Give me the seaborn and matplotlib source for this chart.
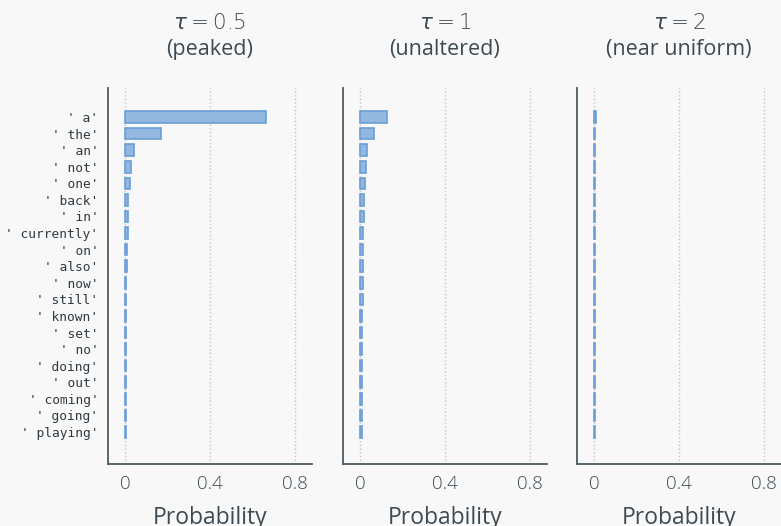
import matplotlib
matplotlib.use("Agg")
import matplotlib.pyplot as plt
import seaborn as sns
import pandas as pd

tokens = ["' a'", "' the'", "' an'", "' not'", "' one'", "' back'", "' in'",
          "' currently'", "' on'", "' also'", "' now'", "' still'", "' known'",
          "' set'", "' no'", "' doing'", "' out'", "' coming'", "' going'", "' playing'"]

p_peaked = [0.662, 0.169, 0.040, 0.029, 0.025, 0.016, 0.013, 0.012, 0.011, 0.009,
            0.007, 0.006, 0.005, 0.005, 0.004, 0.004, 0.003, 0.003, 0.003, 0.003]
p_unaltered = [0.128, 0.064, 0.031, 0.027, 0.025, 0.019, 0.017, 0.016, 0.016, 0.014,
               0.013, 0.012, 0.011, 0.011, 0.010, 0.010, 0.009, 0.009, 0.009, 0.008]
p_uniform = [0.008, 0.006, 0.0045, 0.004, 0.004, 0.0035, 0.0033, 0.0032, 0.0032, 0.003,
             0.003, 0.0028, 0.0027, 0.0027, 0.0026, 0.0026, 0.0025, 0.0025, 0.0025, 0.0024]

titles = ["$\\tau = 0.5$\n(peaked)", "$\\tau = 1$\n(unaltered)", "$\\tau = 2$\n(near uniform)"]
xticks = [0, 0.4, 0.8]
xticklabels = ["0", "0.4", "0.8"]

bg = "#f8f8f8"
txt = "#3d4a52"
spine = "#4e5b63"
fill = "#93b8df"
edge = "#6a9ed6"

sns.set_theme(style="white")
plt.rcParams["font.family"] = ["Open Sans", "DejaVu Sans"]
plt.rcParams["font.weight"] = "light"
plt.rcParams["mathtext.fontset"] = "dejavusans"

fig = plt.figure(figsize=(7.81, 5.26), dpi=100, facecolor=bg)
lefts = [108, 343, 577]
W, H = 781, 526
series = [p_peaked, p_unaltered, p_uniform]

for i, (left, vals, title) in enumerate(zip(lefts, series, titles)):
    ax = fig.add_axes([left / W, 1 - 464 / H, 204 / W, (464 - 88) / H])
    ax.set_facecolor(bg)
    df = pd.DataFrame({"token": tokens, "p": vals})
    sns.barplot(data=df, y="token", x="p", orient="h", ax=ax,
                color=fill, edgecolor=edge, linewidth=1.2, width=0.7, saturation=1)
    ax.set_xlim(-0.08, 0.88)
    ax.set_ylim(20.93, -1.75)
    ax.set_xticks(xticks)
    ax.set_xticklabels(xticklabels, fontsize=13.5, color=txt)
    ax.set_xlabel("Probability", fontsize=16.5, color=txt, labelpad=9)
    ax.set_ylabel("")
    if i == 0:
        ax.set_yticks(range(len(tokens)))
        ax.set_yticklabels(tokens, family="DejaVu Sans Mono", fontsize=9.3,
                           color="#2f3b42", weight="normal")
        ax.tick_params(axis="y", length=0, pad=7)
    else:
        ax.set_yticks([])
    ax.tick_params(axis="x", direction="in", length=6, color="#9a9a9a", width=1, pad=8)
    ax.grid(axis="x", linestyle=":", color="#c4c4c4", linewidth=1)
    ax.set_axisbelow(True)
    for s in ["top", "right"]:
        ax.spines[s].set_visible(False)
    for s in ["left", "bottom"]:
        ax.spines[s].set_color(spine)
        ax.spines[s].set_linewidth(1.3)
    ax.set_title(title, fontsize=15.5, color=txt, pad=24, linespacing=1.3)

fig.savefig("out.png", dpi=100, facecolor=bg)
